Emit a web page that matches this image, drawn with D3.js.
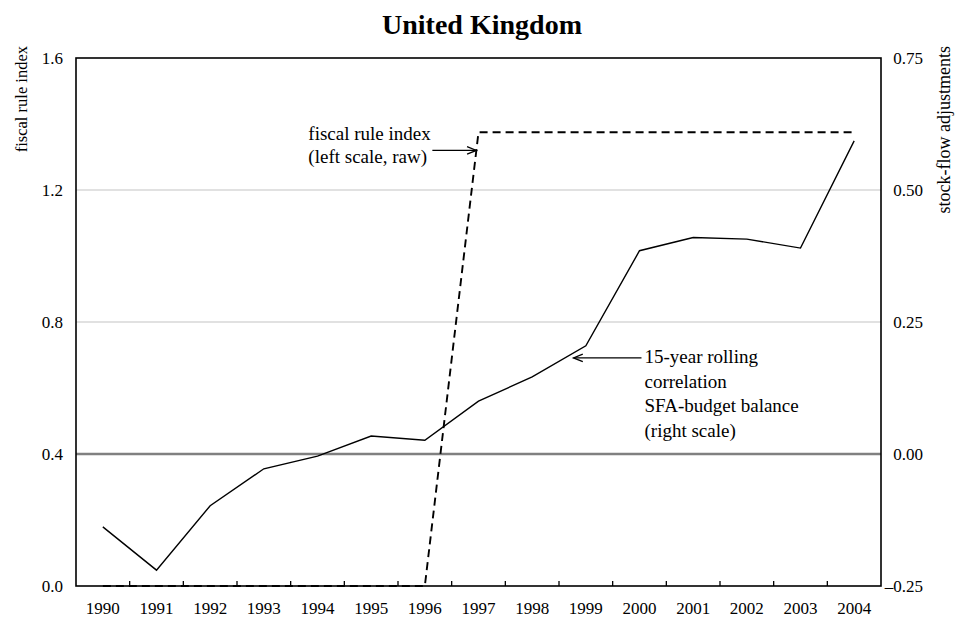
<!DOCTYPE html>
<html>
<head>
<meta charset="utf-8">
<script src="https://cdn.jsdelivr.net/npm/d3@7/dist/d3.min.js"></script>
<style>
  html, body { margin: 0; padding: 0; background: #fff; }
  svg text { font-family: "Liberation Serif", "Times New Roman", serif; fill: #000; }
</style>
</head>
<body>
<svg id="chart" width="960" height="622"></svg>
<script>
// Years on the horizontal axis
const years = ["1990","1991","1992","1993","1994","1995","1996","1997",
               "1998","1999","2000","2001","2002","2003","2004"];

// Fiscal rule index (left scale, raw)
const fiscalRuleIndex = [0, 0, 0, 0, 0, 0, 0, 1.375, 1.375, 1.375, 1.375, 1.375, 1.375, 1.375, 1.375];

// 15-year rolling correlation SFA-budget balance (right scale)
const rollingCorrelation = [-0.138, -0.220, -0.098, -0.028, -0.004, 0.034, 0.026, 0.100,
                            0.146, 0.205, 0.385, 0.410, 0.407, 0.390, 0.593];

// Tick values and labels
const leftTicks = [0, 0.4, 0.8, 1.2, 1.6];
const leftTickLabels = ["0.0", "0.4", "0.8", "1.2", "1.6"];
const rightTicks = [-0.25, 0, 0.25, 0.5, 0.75];
const rightTickLabels = ["\u20130.25", "0.00", "0.25", "0.50", "0.75"];

const svg = d3.select("#chart");
const plotLeft = 76, plotRight = 881, plotTop = 58, plotBottom = 586;

const x = d3.scaleBand().domain(years).range([plotLeft, plotRight]);
const cx = d => x(d) + x.bandwidth() / 2;
const yL = d3.scaleLinear().domain([0, 1.6]).range([plotBottom, plotTop]);
const yR = d3.scaleLinear().domain([-0.25, 0.75]).range([plotBottom, plotTop]);

// Title
svg.append("text")
  .attr("x", 482).attr("y", 34)
  .attr("text-anchor", "middle")
  .style("font-size", "28px").style("font-weight", "bold")
  .text("United Kingdom");

// Horizontal gridlines
const grid = svg.append("g");
[0.8, 1.2].forEach(v => {
  grid.append("line")
    .attr("x1", plotLeft).attr("x2", plotRight)
    .attr("y1", yL(v)).attr("y2", yL(v))
    .attr("stroke", "#c4c4c4").attr("stroke-width", 1.2);
});
// Zero line of the right scale
grid.append("line")
  .attr("x1", plotLeft).attr("x2", plotRight)
  .attr("y1", yR(0)).attr("y2", yR(0))
  .attr("stroke", "#808080").attr("stroke-width", 2.6);

// Left axis labels
const axL = svg.append("g")
  .attr("transform", `translate(${plotLeft},0)`)
  .call(d3.axisLeft(yL).tickValues(leftTicks)
        .tickFormat((d, i) => leftTickLabels[i]).tickSize(0).tickPadding(13));
axL.select(".domain").remove();
axL.selectAll("text").style("font-size", "17px").style("font-family", "Liberation Serif");

// Right axis labels (right-aligned)
const axR = svg.append("g")
  .attr("transform", `translate(${plotRight},0)`)
  .call(d3.axisRight(yR).tickValues(rightTicks)
        .tickFormat((d, i) => rightTickLabels[i]).tickSize(0));
axR.select(".domain").remove();
axR.selectAll("text")
  .attr("x", 42).attr("text-anchor", "end")
  .style("font-size", "17px").style("font-family", "Liberation Serif");

// Bottom axis labels
const axB = svg.append("g")
  .attr("transform", `translate(0,${plotBottom})`)
  .call(d3.axisBottom(x).tickSize(0).tickPadding(16));
axB.select(".domain").remove();
axB.selectAll("text").style("font-size", "17px").style("font-family", "Liberation Serif");

// Inward ticks at the band boundaries
svg.append("g").selectAll("line")
  .data(years.slice(1))
  .join("line")
  .attr("x1", d => x(d)).attr("x2", d => x(d))
  .attr("y1", plotBottom).attr("y2", plotBottom - 5)
  .attr("stroke", "#000").attr("stroke-width", 1.3);

// Axis titles
svg.append("text")
  .attr("transform", "translate(27,46) rotate(-90)")
  .attr("text-anchor", "end")
  .style("font-size", "16.5px")
  .text("fiscal rule index");
svg.append("text")
  .attr("transform", "translate(950,46) rotate(-90)")
  .attr("text-anchor", "end")
  .style("font-size", "18px")
  .text("stock-flow adjustments");

// Fiscal rule index, dashed
const lineL = d3.line().x((d, i) => cx(years[i])).y(d => yL(d));
svg.append("path")
  .datum(fiscalRuleIndex)
  .attr("d", lineL)
  .attr("fill", "none").attr("stroke", "#000")
  .attr("stroke-width", 1.9).attr("stroke-dasharray", "8,5");

// Rolling correlation, solid
const lineR = d3.line().x((d, i) => cx(years[i])).y(d => yR(d));
svg.append("path")
  .datum(rollingCorrelation)
  .attr("d", lineR)
  .attr("fill", "none").attr("stroke", "#000")
  .attr("stroke-width", 1.4);

// Plot frame
svg.append("rect")
  .attr("x", plotLeft).attr("y", plotTop)
  .attr("width", plotRight - plotLeft).attr("height", plotBottom - plotTop)
  .attr("fill", "none").attr("stroke", "#000").attr("stroke-width", 1.6);

// Annotation arrows
function arrow(x1, y1, x2, y2) {
  const g = svg.append("g").attr("stroke", "#000").attr("stroke-width", 1.3).attr("fill", "none");
  g.append("line").attr("x1", x1).attr("y1", y1).attr("x2", x2).attr("y2", y2);
  const a = Math.atan2(y2 - y1, x2 - x1), L = 10, w = 0.38;
  g.append("path").attr("d",
    `M${x2 - L * Math.cos(a - w)},${y2 - L * Math.sin(a - w)} L${x2},${y2} L${x2 - L * Math.cos(a + w)},${y2 - L * Math.sin(a + w)}`);
}

// Point on the dashed rise between 1996 and 1997
const f0 = [cx("1996"), yL(fiscalRuleIndex[6])], f1 = [cx("1997"), yL(fiscalRuleIndex[7])];
const tf = 0.96;
const tipF = [f0[0] + (f1[0] - f0[0]) * tf, f0[1] + (f1[1] - f0[1]) * tf];
arrow(tipF[0] - 44, tipF[1], tipF[0], tipF[1]);
const noteF = svg.append("text").style("font-size", "19px");
noteF.append("tspan").attr("x", tipF[0] - 168).attr("y", tipF[1] - 10).text("fiscal rule index");
noteF.append("tspan").attr("x", tipF[0] - 168).attr("y", tipF[1] + 13).text("(left scale, raw)");

// Point on the solid segment between 1998 and 1999
const s0 = [cx("1998"), yR(rollingCorrelation[8])], s1 = [cx("1999"), yR(rollingCorrelation[9])];
const ts = 0.77;
const tipS = [s0[0] + (s1[0] - s0[0]) * ts, s0[1] + (s1[1] - s0[1]) * ts + 5];
arrow(tipS[0] + 68, tipS[1], tipS[0], tipS[1]);
const noteS = svg.append("text").style("font-size", "19px");
["15-year rolling", "correlation", "SFA-budget balance", "(right scale)"].forEach((t, i) => {
  noteS.append("tspan").attr("x", tipS[0] + 71).attr("y", tipS[1] + 5 + i * 24.7).text(t);
});
</script>
</body>
</html>
